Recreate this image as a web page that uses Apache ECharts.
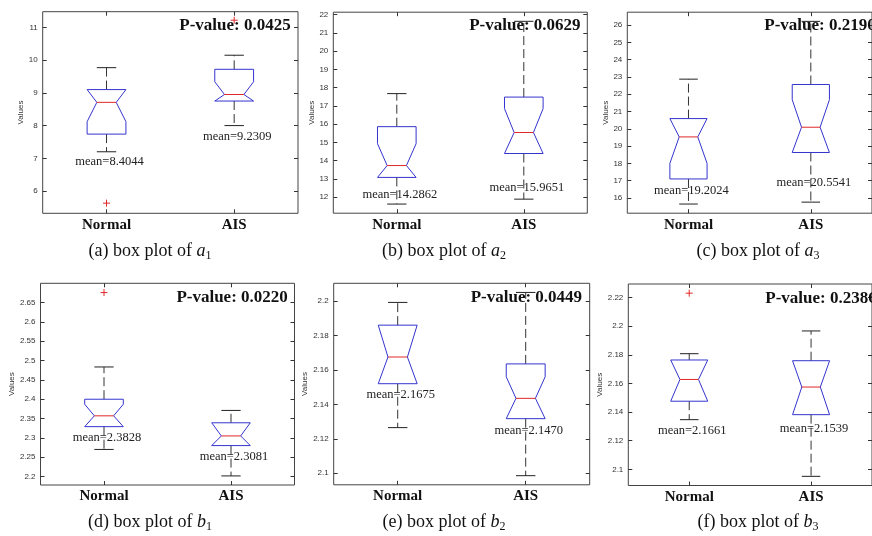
<!DOCTYPE html>
<html lang="en">
  <head>
    <meta charset="UTF-8" />
    <title>box plots</title>
    <style>
      html, body { margin: 0; padding: 0; background: #fff; }
    </style>
  </head>
  <body>
    <div id="main" style="width: 872px; height: 536px"></div>
    <script src="https://cdn.jsdelivr.net/npm/echarts@6/dist/echarts.min.js"></script>
    <script>
      const categories = ['Normal', 'AIS']

      // each box: [lower whisker, Q1, notch low, median, notch high, Q3, upper whisker]
      const a1Boxes = [[7.20, 7.74, 8.12, 8.71, 9.10, 9.10, 9.77], [8.00, 8.75, 8.75, 8.95, 9.34, 9.72, 10.15]]
      const a1Outliers = [[5.63], [11.22]]
      const a1Means = ['8.4044', '9.2309']
      const a1Ticks = [6, 7, 8, 9, 10, 11]
      const a1PValue = '0.0425'

      const a2Boxes = [[11.62, 13.08, 13.08, 13.73, 14.93, 15.86, 17.67], [11.89, 14.39, 14.39, 15.54, 16.85, 17.48, 21.63]]
      const a2Outliers = [[], []]
      const a2Means = ['14.2862', '15.9651']
      const a2Ticks = [12, 13, 14, 15, 16, 17, 18, 19, 20, 21, 22]
      const a2PValue = '0.0629'

      const a3Boxes = [[15.65, 17.10, 18.00, 19.53, 20.59, 20.59, 22.87], [15.76, 18.63, 18.63, 20.09, 21.68, 22.56, 26.21]]
      const a3Outliers = [[], []]
      const a3Means = ['19.2024', '20.5541']
      const a3Ticks = [16, 17, 18, 19, 20, 21, 22, 23, 24, 25, 26]
      const a3PValue = '0.2190'

      const b1Boxes = [[2.270, 2.329, 2.329, 2.357, 2.387, 2.400, 2.4835], [2.2015, 2.280, 2.280, 2.305, 2.339, 2.339, 2.371]]
      const b1Outliers = [[2.676], []]
      const b1Means = ['2.3828', '2.3081']
      const b1Ticks = [2.2, 2.25, 2.3, 2.35, 2.4, 2.45, 2.5, 2.55, 2.6, 2.65]
      const b1PValue = '0.0220'

      const b2Boxes = [[2.1265, 2.152, 2.152, 2.1675, 2.186, 2.186, 2.1992], [2.0986, 2.1317, 2.1317, 2.1435, 2.156, 2.1635, 2.205]]
      const b2Outliers = [[], []]
      const b2Means = ['2.1675', '2.1470']
      const b2Ticks = [2.1, 2.12, 2.14, 2.16, 2.18, 2.2]
      const b2PValue = '0.0449'

      const b3Boxes = [[2.1347, 2.1476, 2.1476, 2.1628, 2.1764, 2.1764, 2.1808], [2.0951, 2.1382, 2.1382, 2.1575, 2.1759, 2.1759, 2.1967]]
      const b3Outliers = [[2.2231], []]
      const b3Means = ['2.1661', '2.1539']
      const b3Ticks = [2.1, 2.12, 2.14, 2.16, 2.18, 2.2, 2.22]
      const b3PValue = '0.2386'

      // panel layout (pixels) + axis range + where the mean text sits
      const panels = [
        { boxes: a1Boxes, outliers: a1Outliers, means: a1Means, ticks: a1Ticks, p: a1PValue, min: 5.32, max: 11.48, meanY: [6.9, 7.66],
          left: 42.7, top: 11.7, width: 255.3, height: 201.6, nameGap: 17, cap: ['a', '(a)'], capX: 150, capY: 251 },
        { boxes: a2Boxes, outliers: a2Outliers, means: a2Means, ticks: a2Ticks, p: a2PValue, min: 11.12, max: 22.13, meanY: [12.15, 12.51],
          left: 333.3, top: 12.2, width: 254, height: 201, nameGap: 16, cap: ['a', '(b)'], capX: 444, capY: 251 },
        { boxes: a3Boxes, outliers: a3Outliers, means: a3Means, ticks: a3Ticks, p: a3PValue, min: 15.12, max: 26.74, meanY: [16.42, 16.91],
          left: 627.3, top: 12.2, width: 256, height: 201, nameGap: 15, cap: ['a', '(c)'], capX: 758, capY: 251 },
        { boxes: b1Boxes, outliers: b1Outliers, means: b1Means, ticks: b1Ticks, p: b1PValue, min: 2.178, max: 2.700, meanY: [2.301, 2.250],
          left: 40.5, top: 283.3, width: 254, height: 201.7, nameGap: 21, cap: ['b', '(d)'], capX: 150, capY: 522 },
        { boxes: b2Boxes, outliers: b2Outliers, means: b2Means, ticks: b2Ticks, p: b2PValue, min: 2.0933, max: 2.2103, meanY: [2.1454, 2.1247],
          left: 333.7, top: 283.3, width: 256, height: 201.5, nameGap: 21, cap: ['b', '(e)'], capX: 444, capY: 522 },
        { boxes: b3Boxes, outliers: b3Outliers, means: b3Means, ticks: b3Ticks, p: b3PValue, min: 2.0887, max: 2.2295, meanY: [2.127, 2.1282],
          left: 628.3, top: 284, width: 256, height: 201.5, nameGap: 19, cap: ['b', '(f)'], capX: 758, capY: 522 }
      ]

      const serif = '"Liberation Serif", "Times New Roman", serif'
      const blue = '#3434cf'
      const red = '#e02828'

      function makeRenderer(panel) {
        return function (params, api) {
          const i = api.value(0)
          const [lw, q1, nlo, med, nhi, q3, uw] = [1, 2, 3, 4, 5, 6, 7].map(k => api.value(k))
          const y = v => api.coord([i, v])[1]
          const x = api.coord([i, med])[0]
          const band = api.size([1, 0])[0]
          const hw = band * 0.152
          const nw = hw / 2
          const cw = hw / 2

          const children = [
            // whiskers
            { type: 'line', shape: { x1: x, y1: y(q3), x2: x, y2: y(uw) }, style: { stroke: '#333', lineWidth: 1, lineDash: [9, 4] } },
            { type: 'line', shape: { x1: x, y1: y(q1), x2: x, y2: y(lw) }, style: { stroke: '#333', lineWidth: 1, lineDash: [9, 4] } },
            { type: 'line', shape: { x1: x - cw, y1: y(uw), x2: x + cw, y2: y(uw) }, style: { stroke: '#222', lineWidth: 1 } },
            { type: 'line', shape: { x1: x - cw, y1: y(lw), x2: x + cw, y2: y(lw) }, style: { stroke: '#222', lineWidth: 1 } },
            // notched box
            {
              type: 'polygon',
              shape: {
                points: [
                  [x - hw, y(q1)], [x - hw, y(nlo)], [x - nw, y(med)], [x - hw, y(nhi)], [x - hw, y(q3)],
                  [x + hw, y(q3)], [x + hw, y(nhi)], [x + nw, y(med)], [x + hw, y(nlo)], [x + hw, y(q1)]
                ]
              },
              style: { fill: 'none', stroke: blue, lineWidth: 1 }
            },
            { type: 'line', shape: { x1: x - nw, y1: y(med), x2: x + nw, y2: y(med) }, style: { stroke: red, lineWidth: 1 } }
          ]

          panel.outliers[params.dataIndex].forEach(o => {
            const oy = y(o)
            children.push({ type: 'line', shape: { x1: x - 3.5, y1: oy, x2: x + 3.5, y2: oy }, style: { stroke: red, lineWidth: 1 } })
            children.push({ type: 'line', shape: { x1: x, y1: oy - 3.5, x2: x, y2: oy + 3.5 }, style: { stroke: red, lineWidth: 1 } })
          })

          children.push({
            type: 'text',
            x: x + 3,
            y: y(panel.meanY[params.dataIndex]),
            style: {
              text: 'mean=' + panel.means[params.dataIndex],
              font: '12.5px ' + serif,
              fill: '#222',
              align: 'center',
              verticalAlign: 'middle'
            }
          })

          return { type: 'group', children }
        }
      }

      const grid = []
      const xAxis = []
      const yAxis = []
      const series = []
      const graphic = []

      panels.forEach((p, g) => {
        grid.push({
          left: p.left, top: p.top, width: p.width, height: p.height,
          show: true, borderColor: '#444', borderWidth: 1, backgroundColor: '#fff'
        })

        const tickStyle = { show: true, inside: true, length: 4, lineStyle: { color: '#333' } }

        // bottom / top category axes
        xAxis.push({
          type: 'category', gridIndex: g, data: categories, position: 'bottom',
          axisLine: { show: false },
          axisTick: { ...tickStyle, alignWithLabel: true },
          axisLabel: { fontFamily: serif, fontWeight: 'bold', fontSize: 15, color: '#111', margin: 4 },
          splitLine: { show: false }
        })
        xAxis.push({
          type: 'category', gridIndex: g, data: categories, position: 'top',
          axisLine: { show: false },
          axisTick: { ...tickStyle, alignWithLabel: true },
          axisLabel: { show: false },
          splitLine: { show: false }
        })

        // left / right value axes
        yAxis.push({
          type: 'value', gridIndex: g, min: p.min, max: p.max, position: 'left',
          name: 'Values', nameLocation: 'middle', nameGap: p.nameGap,
          nameTextStyle: { fontSize: 8, color: '#333', fontFamily: 'Liberation Sans' },
          axisLine: { show: false },
          axisTick: { ...tickStyle, customValues: p.ticks },
          axisLabel: { customValues: p.ticks, fontSize: 8, color: '#333', margin: 5, fontFamily: 'Liberation Sans' },
          splitLine: { show: false }
        })
        yAxis.push({
          type: 'value', gridIndex: g, min: p.min, max: p.max, position: 'right',
          axisLine: { show: false },
          axisTick: { ...tickStyle, customValues: p.ticks },
          axisLabel: { show: false, customValues: p.ticks },
          splitLine: { show: false }
        })

        series.push({
          type: 'custom',
          xAxisIndex: g * 2,
          yAxisIndex: g * 2,
          data: p.boxes.map((b, i) => [i, ...b]),
          encode: { x: 0, y: [1, 2, 3, 4, 5, 6, 7] },
          renderItem: makeRenderer(p),
          z: 3
        })

        // P-value label
        graphic.push({
          type: 'text',
          x: p.left + 0.535 * p.width,
          y: p.top + (g < 3 ? 13.5 : 14.5),
          z: 10,
          style: {
            text: 'P-value: ' + p.p,
            font: 'bold 17px ' + serif,
            fill: '#111',
            align: 'left',
            verticalAlign: 'middle'
          }
        })

        // caption below the panel
        graphic.push({
          type: 'text',
          x: p.capX,
          y: p.capY,
          style: {
            text: p.cap[1] + ' box plot of {i|' + p.cap[0] + '}{s|' + ((g % 3) + 1) + '}',
            font: '18px ' + serif,
            fill: '#111',
            align: 'center',
            verticalAlign: 'middle',
            lineHeight: 22,
            rich: {
              i: { fontStyle: 'italic', fontSize: 18, fontFamily: serif, lineHeight: 22 },
              s: { fontSize: 12, fontFamily: serif, verticalAlign: 'bottom', lineHeight: 12 }
            }
          }
        })
      })

      const myChart = echarts.init(document.getElementById('main'), null, { renderer: 'canvas' })
      myChart.setOption({ animation: false, grid, xAxis, yAxis, series, graphic })
    </script>
  </body>
</html>
